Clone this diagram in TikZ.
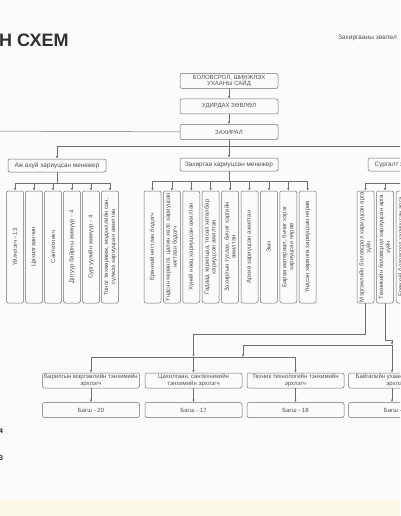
\documentclass[tikz,border=0pt]{standalone}
\usepackage{fontspec}
\setmainfont{Liberation Sans}
\usetikzlibrary{arrows.meta}
\definecolor{boxgray}{HTML}{6E6E6E}
\definecolor{txtgray}{HTML}{505050}
\definecolor{titlegray}{HTML}{303030}
\definecolor{scanbg}{HTML}{FBFBFA}
\definecolor{scanband}{HTML}{FBF8E6}

\tikzset{
  box/.style={draw=boxgray, rounded corners=2pt, line width=0.5pt, text=txtgray,
    font=\fontsize{6}{6.8}\selectfont, align=center, inner sep=0.5pt},
  topbox/.style={box, minimum width=98pt, minimum height=15pt},
  mgrbox/.style={box, font=\fontsize{6.4}{7}\selectfont, minimum width=98pt, minimum height=13pt},
  staffbox/.style={box, rotate=90, minimum width=112pt, minimum height=17pt},
  deptbox/.style={box, minimum width=97pt, minimum height=15pt},
  link/.style={draw=boxgray, line width=0.5pt},
  feed/.style={link, ->},
}

\begin{document}
\begin{tikzpicture}[x=1pt,y=-1pt,>={Latex[length=2.6pt,width=2.2pt]}]
  \useasboundingbox (0,0) rectangle (400,516);
  \clip (0,0) rectangle (400,516);
  \fill[scanbg] (0,0) rectangle (400,516);
  \fill[scanband] (0,500) rectangle (400,516);
  % heading
  \node[anchor=west, inner sep=0, text=titlegray, font=\bfseries\fontsize{18}{20}\selectfont] (title) at (-1,40) {Н СХЕМ};
  \node[anchor=west, inner sep=0, text=txtgray, font=\fontsize{6.5}{7}\selectfont] (council) at (338,38) {Захиргааны зөвлөл};
  \node[anchor=west, inner sep=0, text=titlegray, font=\bfseries\fontsize{7}{8}\selectfont] (edge4) at (-1,431) {4};
  \node[anchor=west, inner sep=0, text=titlegray, font=\bfseries\fontsize{7}{8}\selectfont] (edge3) at (-1,458) {3};
  % top chain
  \node[topbox] (said) at (229,81) {БОЛОВСРОЛ, ШИНЖЛЭХ\\УХААНЫ САЙД};
  \node[topbox] (udirdah) at (229,106.5) {УДИРДАХ ЗӨВЛӨЛ};
  \node[topbox] (zahiral) at (229,132) {ЗАХИРАЛ};
  \draw[feed] (said) -- (udirdah);
  \draw[feed] (udirdah) -- (zahiral);
  \coordinate (leftexit) at (-5,131);
  \draw[link] (zahiral.west) -- (leftexit);
  % managers
  \node[mgrbox] (ahuy) at (57,165.5) {Аж ахуй хариуцсан менежер};
  \node[mgrbox] (zahirgaa) at (229,164.5) {Захиргаа хариуцсан менежер};
  \node[mgrbox] (surgalt) at (417,164.5) {Сургалт хариуцсан менежер};
  \coordinate (mainbus) at (229,146);
  \draw[link] (zahiral.south) -- (mainbus);
  \draw[link] (ahuy.north |- mainbus) -- (surgalt.north |- mainbus);
  \draw[feed] (ahuy.north |- mainbus) -- (ahuy.north);
  \draw[feed] (mainbus) -- (zahirgaa.north);
  \draw[feed] (surgalt.north |- mainbus) -- (surgalt.north);
  % household staff
  \node[staffbox] (ahuy1) at (15,247) {Үйлчлэгч - 13};
  \node[staffbox] (ahuy2) at (34,247) {Цахилгаанчин};
  \node[staffbox] (ahuy3) at (53,247) {Сантехникч};
  \node[staffbox] (ahuy4) at (72,247) {Дотуур байрны жижүүр - 4};
  \node[staffbox] (ahuy5) at (91,247) {Сургуулийн жижүүр - 4};
  \node[staffbox] (ahuy6) at (110,247) {Тоног төхөөрөмж, мэдээллийн сан,\\сүлжээ хариуцсан ажилтан};
  \coordinate (ahuybus) at (57,183);
  \draw[link] (ahuy.south) -- (ahuybus);
  \draw[link] (ahuy1.east |- ahuybus) -- (ahuy6.east |- ahuybus);
  \draw[feed] (ahuy1.east |- ahuybus) -- (ahuy1.east);
  \draw[feed] (ahuy2.east |- ahuybus) -- (ahuy2.east);
  \draw[feed] (ahuy3.east |- ahuybus) -- (ahuy3.east);
  \draw[feed] (ahuy4.east |- ahuybus) -- (ahuy4.east);
  \draw[feed] (ahuy5.east |- ahuybus) -- (ahuy5.east);
  \draw[feed] (ahuy6.east |- ahuybus) -- (ahuy6.east);
  % administration staff
  \node[staffbox] (zah1) at (152.5,247) {Ерөнхий нягтлан бодогч};
  \node[staffbox] (zah2) at (171.9,247) {Үндсэн хөрөнгө, цалин хөлс хариуцсан\\нягтлан бодогч};
  \node[staffbox] (zah3) at (191.3,247) {Хүний нөөц хариуцсан ажилтан};
  \node[staffbox] (zah4) at (210.7,247) {Гадаад харилцаа, төсөл хөтөлбөр\\хариуцсан ажилтан};
  \node[staffbox] (zah5) at (230.1,247) {Захирлын туслах, бичиг хэргийн\\ажилтан};
  \node[staffbox] (zah6) at (249.5,247) {Архив хариуцсан ажилтан};
  \node[staffbox] (zah7) at (268.9,247) {Эмч};
  \node[staffbox] (zah8) at (288.3,247) {Бараа материал, бичиг хэрэг\\хариуцсан нярав};
  \node[staffbox] (zah9) at (307.7,247) {Үндсэн хөрөнгө хариуцсан нярав};
  \coordinate (zahbus) at (229,181);
  \draw[link] (zahirgaa.south) -- (zahbus);
  \draw[link] (zah1.east |- zahbus) -- (zah9.east |- zahbus);
  \draw[feed] (zah1.east |- zahbus) -- (zah1.east);
  \draw[feed] (zah2.east |- zahbus) -- (zah2.east);
  \draw[feed] (zah3.east |- zahbus) -- (zah3.east);
  \draw[feed] (zah4.east |- zahbus) -- (zah4.east);
  \draw[feed] (zah5.east |- zahbus) -- (zah5.east);
  \draw[feed] (zah6.east |- zahbus) -- (zah6.east);
  \draw[feed] (zah7.east |- zahbus) -- (zah7.east);
  \draw[feed] (zah8.east |- zahbus) -- (zah8.east);
  \draw[feed] (zah9.east |- zahbus) -- (zah9.east);
  % training staff
  \node[staffbox] (surg1) at (365.5,247) {Мэргэжлийн боловсрол хариуцсан арга\\зүйч};
  \node[staffbox] (surg2) at (385,247) {Техникийн боловсрол хариуцсан арга\\зүйч};
  \node[staffbox] (surg3) at (404.5,247) {Ерөнхий боловсрол хариуцсан арга\\зүйч};
  \coordinate (surgbus) at (417,183);
  \draw[link] (surgalt.south) -- (surgbus);
  \draw[link] (surg1.east |- surgbus) -- (surgbus);
  \draw[feed] (surg1.east |- surgbus) -- (surg1.east);
  \draw[feed] (surg2.east |- surgbus) -- (surg2.east);
  \draw[feed] (surg3.east |- surgbus) -- (surg3.east);
  % departments
  \node[deptbox] (tenhim1) at (91,380.5) {Барилгын мэргэжлийн тэнхимийн\\эрхлэгч};
  \node[deptbox] (tenhim2) at (193.5,380.5) {Цахилгаан, сантехникийн\\тэнхимийн эрхлэгч};
  \node[deptbox] (tenhim3) at (295.5,380.5) {Техник технологийн тэнхимийн\\эрхлэгч};
  \node[deptbox] (tenhim4) at (397,380.5) {Байгалийн ухааны тэнхимийн\\эрхлэгч};
  \node[deptbox] (bagsh1) at (91,410) {Багш - 20};
  \node[deptbox] (bagsh2) at (193.5,410) {Багш - 17};
  \node[deptbox] (bagsh3) at (295.5,410) {Багш  - 18};
  \node[deptbox] (bagsh4) at (397,410) {Багш - 16};
  \coordinate (profjoin) at (193.5,334);
  \coordinate (deptbus) at (193.5,357);
  \coordinate (techturn) at (392,340);
  \coordinate (techbus) at (392,345);
  \coordinate (techdrop) at (243,345);
  \draw[link] (surg1.west) |- (profjoin);
  \draw[feed] (profjoin) -- (deptbus);
  \draw[link] (tenhim1.north |- deptbus) -- (tenhim3.north |- deptbus);
  \draw[link] (surg2.west) |- (techturn);
  \draw[feed] (techturn) -- (techbus);
  \draw[link] (techdrop) -- (techbus);
  \draw[feed] (techdrop) -- (techdrop |- deptbus);
  \draw[feed] (tenhim1.north |- deptbus) -- (tenhim1.north);
  \draw[feed] (deptbus) -- (tenhim2.north);
  \draw[feed] (tenhim3.north |- deptbus) -- (tenhim3.north);
  \draw[feed] (techbus) -- (tenhim4.north -| techbus);
  \draw[feed] (tenhim1) -- (bagsh1);
  \draw[feed] (tenhim2) -- (bagsh2);
  \draw[feed] (tenhim3) -- (bagsh3);
  \draw[feed] (tenhim4.south -| techbus) -- (bagsh4.north -| techbus);
\end{tikzpicture}
\end{document}
